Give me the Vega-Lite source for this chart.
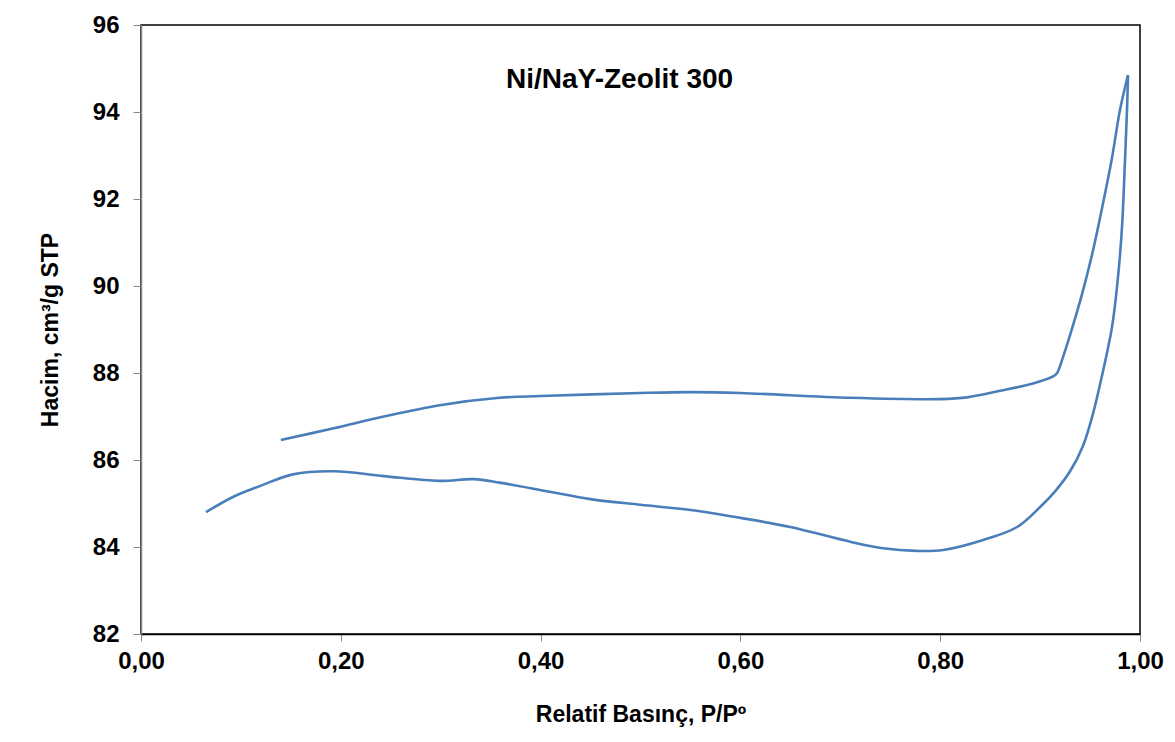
{
  "$schema": "https://vega.github.io/schema/vega-lite/v6.json",
  "width": 999,
  "height": 609,
  "autosize": {"type": "none"},
  "padding": {"left": 141, "top": 25, "right": 35, "bottom": 108},
  "background": "white",
  "config": {
    "font": "Liberation Sans",
    "view": {"stroke": "#000000", "strokeWidth": 1.5},
    "axis": {
      "grid": false,
      "labelFont": "Liberation Sans",
      "labelFontWeight": "bold",
      "labelFontSize": 24,
      "labelColor": "#000000",
      "titleFont": "Liberation Sans",
      "titleFontWeight": "bold",
      "titleFontSize": 23,
      "titleColor": "#000000",
      "tickColor": "#868686",
      "tickWidth": 1
    }
  },
  "datasets": {
    "isotherm": [
      {"branch": "adsorpsiyon", "p": 0.065, "v": 84.80},
      {"branch": "adsorpsiyon", "p": 0.092, "v": 85.15},
      {"branch": "adsorpsiyon", "p": 0.119, "v": 85.40},
      {"branch": "adsorpsiyon", "p": 0.152, "v": 85.67},
      {"branch": "adsorpsiyon", "p": 0.193, "v": 85.74},
      {"branch": "adsorpsiyon", "p": 0.243, "v": 85.63},
      {"branch": "adsorpsiyon", "p": 0.299, "v": 85.52},
      {"branch": "adsorpsiyon", "p": 0.333, "v": 85.56},
      {"branch": "adsorpsiyon", "p": 0.359, "v": 85.48},
      {"branch": "adsorpsiyon", "p": 0.409, "v": 85.27},
      {"branch": "adsorpsiyon", "p": 0.450, "v": 85.10},
      {"branch": "adsorpsiyon", "p": 0.500, "v": 84.97},
      {"branch": "adsorpsiyon", "p": 0.550, "v": 84.85},
      {"branch": "adsorpsiyon", "p": 0.600, "v": 84.67},
      {"branch": "adsorpsiyon", "p": 0.650, "v": 84.46},
      {"branch": "adsorpsiyon", "p": 0.710, "v": 84.12},
      {"branch": "adsorpsiyon", "p": 0.743, "v": 83.97},
      {"branch": "adsorpsiyon", "p": 0.776, "v": 83.91},
      {"branch": "adsorpsiyon", "p": 0.803, "v": 83.93},
      {"branch": "adsorpsiyon", "p": 0.843, "v": 84.16},
      {"branch": "adsorpsiyon", "p": 0.877, "v": 84.46},
      {"branch": "adsorpsiyon", "p": 0.900, "v": 84.92},
      {"branch": "adsorpsiyon", "p": 0.915, "v": 85.28},
      {"branch": "adsorpsiyon", "p": 0.930, "v": 85.74},
      {"branch": "adsorpsiyon", "p": 0.943, "v": 86.33},
      {"branch": "adsorpsiyon", "p": 0.953, "v": 87.07},
      {"branch": "adsorpsiyon", "p": 0.961, "v": 87.84},
      {"branch": "adsorpsiyon", "p": 0.972, "v": 89.06},
      {"branch": "adsorpsiyon", "p": 0.978, "v": 90.21},
      {"branch": "adsorpsiyon", "p": 0.982, "v": 91.36},
      {"branch": "adsorpsiyon", "p": 0.985, "v": 92.90},
      {"branch": "adsorpsiyon", "p": 0.987, "v": 94.05},
      {"branch": "adsorpsiyon", "p": 0.988, "v": 94.85},
      {"branch": "desorpsiyon", "p": 0.140, "v": 86.46},
      {"branch": "desorpsiyon", "p": 0.193, "v": 86.73},
      {"branch": "desorpsiyon", "p": 0.243, "v": 87.00},
      {"branch": "desorpsiyon", "p": 0.299, "v": 87.26},
      {"branch": "desorpsiyon", "p": 0.359, "v": 87.43},
      {"branch": "desorpsiyon", "p": 0.400, "v": 87.47},
      {"branch": "desorpsiyon", "p": 0.500, "v": 87.54},
      {"branch": "desorpsiyon", "p": 0.550, "v": 87.56},
      {"branch": "desorpsiyon", "p": 0.600, "v": 87.54},
      {"branch": "desorpsiyon", "p": 0.710, "v": 87.43},
      {"branch": "desorpsiyon", "p": 0.800, "v": 87.40},
      {"branch": "desorpsiyon", "p": 0.827, "v": 87.44},
      {"branch": "desorpsiyon", "p": 0.860, "v": 87.59},
      {"branch": "desorpsiyon", "p": 0.893, "v": 87.76},
      {"branch": "desorpsiyon", "p": 0.913, "v": 87.92},
      {"branch": "desorpsiyon", "p": 0.917, "v": 88.00},
      {"branch": "desorpsiyon", "p": 0.923, "v": 88.37},
      {"branch": "desorpsiyon", "p": 0.933, "v": 89.10},
      {"branch": "desorpsiyon", "p": 0.943, "v": 89.90},
      {"branch": "desorpsiyon", "p": 0.953, "v": 90.82},
      {"branch": "desorpsiyon", "p": 0.963, "v": 91.90},
      {"branch": "desorpsiyon", "p": 0.972, "v": 92.95},
      {"branch": "desorpsiyon", "p": 0.980, "v": 94.05},
      {"branch": "desorpsiyon", "p": 0.988, "v": 94.85}
    ]
  },
  "layer": [
    {
      "data": {"name": "isotherm"},
      "mark": {"type": "line", "interpolate": "catmull-rom", "color": "#4A7EBB", "strokeWidth": 2.6},
      "encoding": {
        "x": {
          "field": "p",
          "type": "quantitative",
          "scale": {"domain": [0, 1], "nice": false, "zero": false},
          "axis": {
            "title": "Relatif Basınç, P/Pº",
            "values": [0, 0.2, 0.4, 0.6, 0.8, 1.0],
            "labelExpr": "replace(format(datum.value, '.2f'), '.', ',')",
            "domainColor": "#000000",
            "domainWidth": 1.5,
            "tickSize": 7,
            "labelPadding": 8,
            "titlePadding": 30,
            "labelFlush": false
          }
        },
        "y": {
          "field": "v",
          "type": "quantitative",
          "scale": {"domain": [82, 96], "nice": false, "zero": false},
          "axis": {
            "title": "Hacim, cm³/g STP",
            "values": [82, 84, 86, 88, 90, 92, 94, 96],
            "domainColor": "#868686",
            "domainWidth": 1.5,
            "tickSize": 8,
            "labelPadding": 14,
            "titlePadding": 30,
            "labelFlush": false
          }
        },
        "detail": {"field": "branch"}
      }
    },
    {
      "data": {"values": [{}]},
      "mark": {
        "type": "text",
        "text": "Ni/NaY-Zeolit 300",
        "font": "Liberation Sans",
        "fontWeight": "bold",
        "fontSize": 28,
        "color": "#000000",
        "align": "center",
        "baseline": "middle"
      },
      "encoding": {
        "x": {"datum": 0.479},
        "y": {"datum": 94.74}
      }
    }
  ]
}
